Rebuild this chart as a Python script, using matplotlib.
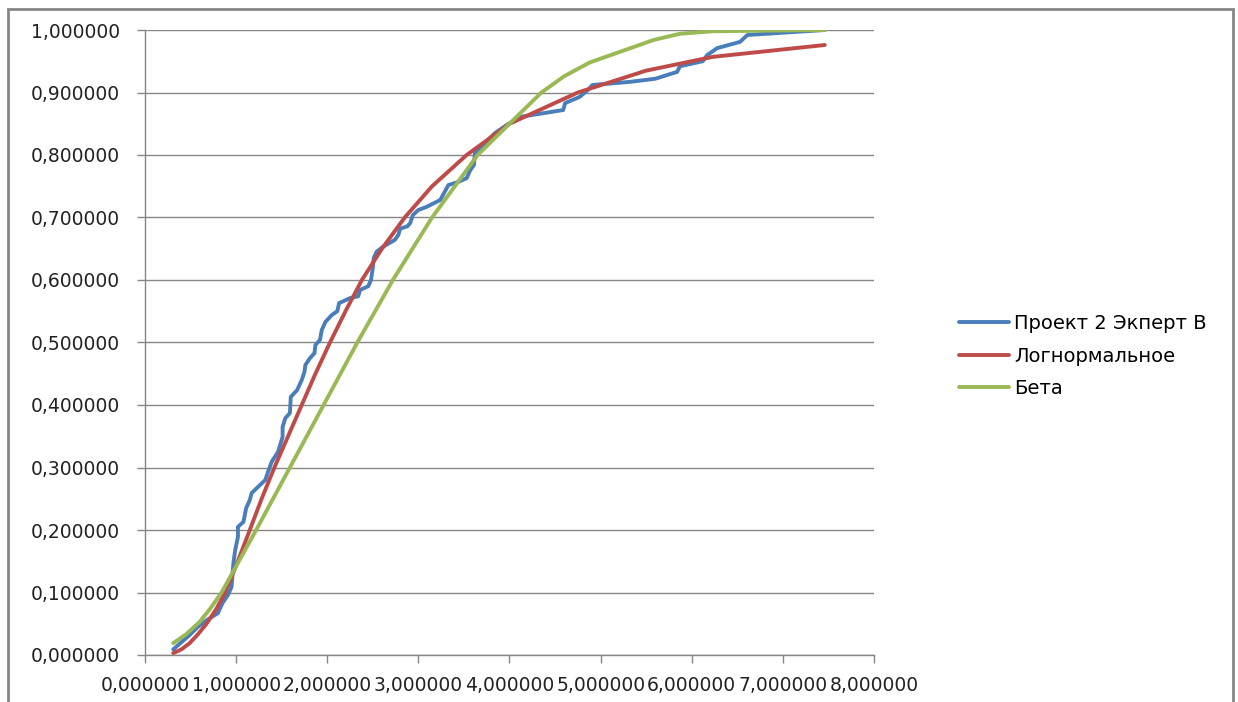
import matplotlib
matplotlib.use('Agg')
import matplotlib.pyplot as plt
from matplotlib.patches import Rectangle
from matplotlib.ticker import FuncFormatter, MultipleLocator

# empirical CDF, "Проект 2 Экперт В"
exp_x = [0.31, 0.49, 0.58, 0.68, 0.80, 0.85, 0.91, 0.95, 0.97, 0.99, 1.02, 1.02,
         1.08, 1.11, 1.15, 1.17, 1.24, 1.32, 1.35, 1.39, 1.46, 1.51, 1.51, 1.54,
         1.59, 1.60, 1.67, 1.72, 1.75, 1.76, 1.81, 1.86, 1.87, 1.92, 1.94, 1.98,
         2.05, 2.11, 2.13, 2.25, 2.34, 2.36, 2.45, 2.48, 2.50, 2.51, 2.54, 2.61,
         2.74, 2.78, 2.80, 2.88, 2.91, 2.94, 3.00, 3.09, 3.24, 3.33, 3.44, 3.53,
         3.57, 3.61, 3.62, 3.71, 3.84, 3.97, 4.12, 4.59, 4.61, 4.77, 4.86, 4.91,
         5.32, 5.60, 5.84, 5.87, 6.12, 6.17, 6.28, 6.53, 6.61, 7.46]
exp_y = [0.009, 0.032, 0.045, 0.056, 0.067, 0.083, 0.096, 0.109, 0.147, 0.168, 0.189, 0.205,
         0.213, 0.235, 0.248, 0.259, 0.269, 0.280, 0.293, 0.309, 0.325, 0.349, 0.365, 0.379,
         0.387, 0.413, 0.424, 0.440, 0.453, 0.464, 0.475, 0.483, 0.496, 0.504, 0.520, 0.533,
         0.544, 0.550, 0.563, 0.571, 0.574, 0.584, 0.590, 0.600, 0.619, 0.635, 0.645, 0.653,
         0.664, 0.672, 0.682, 0.686, 0.691, 0.704, 0.712, 0.717, 0.728, 0.752, 0.757, 0.763,
         0.776, 0.784, 0.803, 0.816, 0.835, 0.848, 0.861, 0.872, 0.883, 0.893, 0.904, 0.912,
         0.917, 0.922, 0.933, 0.942, 0.950, 0.960, 0.971, 0.981, 0.992, 1.000]

# lognormal fit
logn_x = [0.31, 0.40, 0.49, 0.58, 0.68, 0.78, 0.88, 1.00, 1.15, 1.28, 1.42, 1.57, 1.72,
          1.87, 2.03, 2.20, 2.38, 2.60, 2.85, 3.15, 3.53, 4.00, 4.75, 5.50, 6.23, 7.46]
logn_y = [0.003, 0.009, 0.019, 0.033, 0.051, 0.073, 0.100, 0.143, 0.200, 0.250, 0.300, 0.350, 0.400,
          0.450, 0.500, 0.550, 0.600, 0.650, 0.700, 0.750, 0.800, 0.850, 0.900, 0.935, 0.957, 0.976]

# beta fit
beta_x = [0.31, 0.45, 0.60, 0.72, 0.84, 1.03, 1.22, 1.59, 1.96, 2.33, 2.72, 3.15,
          3.65, 4.35, 4.60, 4.88, 5.58, 5.87, 6.23, 7.46]
beta_y = [0.019, 0.033, 0.053, 0.075, 0.100, 0.150, 0.200, 0.300, 0.400, 0.500, 0.600, 0.700,
          0.800, 0.900, 0.926, 0.948, 0.984, 0.994, 0.998, 1.000]

labels = ['Проект 2 Экперт В', 'Логнормальное', 'Бета']
colors = ['#4A7EBB', '#BE4B48', '#98B954']

W, H = 1238, 702
fig = plt.figure(figsize=(W / 100, H / 100), dpi=100)
fig.patch.set_facecolor('white')

# chart area border
fig.patches.append(Rectangle((8 / W, -0.05), (1233 - 8) / W, 1.05 - 9 / H,
                             transform=fig.transFigure, fill=False,
                             edgecolor='#868686', linewidth=2))

ax = fig.add_axes([145 / W, (H - 655) / H, (874 - 145) / W, (655 - 30) / H])

ax.plot(exp_x, exp_y, color=colors[0], lw=2.8, label=labels[0], solid_capstyle='round')
ax.plot(logn_x, logn_y, color=colors[1], lw=2.8, label=labels[1], solid_capstyle='round')
ax.plot(beta_x, beta_y, color=colors[2], lw=2.8, label=labels[2], solid_capstyle='round')

ax.set_xlim(0, 8)
ax.set_ylim(0, 1)
ax.xaxis.set_major_locator(MultipleLocator(1))
ax.yaxis.set_major_locator(MultipleLocator(0.1))
fmt = FuncFormatter(lambda v, p: f'{v:.6f}'.replace('.', ','))
ax.xaxis.set_major_formatter(fmt)
ax.yaxis.set_major_formatter(fmt)

ax.grid(axis='y', color='#868686', lw=1)
ax.set_axisbelow(True)
for s in ['top', 'right']:
    ax.spines[s].set_visible(False)
for s in ['left', 'bottom']:
    ax.spines[s].set_color('#868686')
    ax.spines[s].set_linewidth(1)
ax.tick_params(axis='both', direction='out', length=6, color='#868686', width=1,
               labelsize=13.5, labelcolor='#222222')
ax.tick_params(axis='y', pad=12)
ax.tick_params(axis='x', pad=9)

fig.legend(loc='center left', bbox_to_anchor=(951 / W, (H - 356) / H),
           frameon=False, fontsize=14, handlelength=2.6, handletextpad=0.25,
           labelspacing=0.7, borderaxespad=0)

fig.savefig('out.png', dpi=100, facecolor='white')
